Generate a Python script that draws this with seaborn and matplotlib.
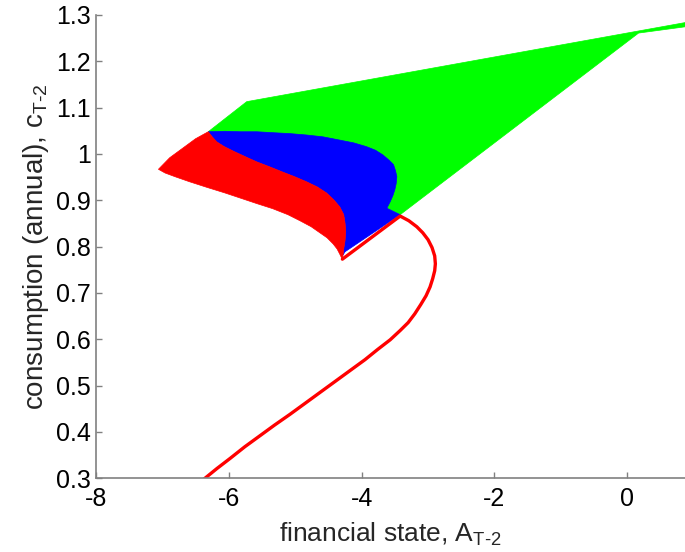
import matplotlib
matplotlib.use("Agg")
import matplotlib.pyplot as plt
import pandas as pd
import seaborn as sns

# green region (outline), financial state A vs consumption c
green_a = [-6.31, -5.73, 1.00, 1.00, 0.17, -3.42, -3.62]
green_c = [1.048, 1.113, 1.287, 1.277, 1.261, 0.869, 0.883]

# blue region: top edge, notch, lower edge
blue_top_a = [-6.31, -6.06, -5.83, -5.58, -5.34, -5.08, -4.83, -4.58, -4.33, -4.12,
              -3.93, -3.79, -3.68, -3.59, -3.52, -3.49, -3.47, -3.48, -3.50, -3.53,
              -3.57, -3.62, -3.42, -4.25]
blue_top_c = [1.048, 1.049, 1.048, 1.048, 1.046, 1.044, 1.041, 1.037, 1.030, 1.024,
              1.016, 1.008, 0.998, 0.987, 0.977, 0.964, 0.951, 0.936, 0.923, 0.910,
              0.897, 0.883, 0.869, 0.789]

# red/blue boundary, from the left junction down to the red tip
split_a = [-6.31, -6.25, -6.18, -6.07, -5.93, -5.75, -5.58, -5.38, -5.19, -5.01,
           -4.83, -4.67, -4.53, -4.42, -4.33, -4.27, -4.25, -4.24, -4.25, -4.27,
           -4.28]
split_c = [1.048, 1.037, 1.026, 1.016, 1.006, 0.994, 0.983, 0.972, 0.961, 0.951,
           0.940, 0.929, 0.916, 0.901, 0.886, 0.869, 0.851, 0.832, 0.813, 0.795,
           0.782]

# red region: left edge and lower edge, from the junction to the red tip
red_edge_a = [-6.31, -6.50, -6.69, -6.89, -7.06, -6.96, -6.81, -6.59, -6.33, -6.06,
              -5.83, -5.58, -5.34, -5.11, -4.93, -4.76, -4.63, -4.52, -4.43, -4.37,
              -4.33, -4.29]
red_edge_c = [1.048, 1.033, 1.013, 0.992, 0.967, 0.959, 0.951, 0.940, 0.928, 0.916,
              0.905, 0.893, 0.882, 0.869, 0.856, 0.843, 0.830, 0.819, 0.806, 0.795,
              0.784, 0.772]

# red curve
curve_a = [-4.29, -3.42, -3.29, -3.17, -3.08, -3.00, -2.94, -2.90, -2.89, -2.90,
           -2.93, -2.97, -3.03, -3.11, -3.20, -3.30, -3.42, -3.57, -3.76, -3.95,
           -4.18, -4.40, -4.63, -4.85, -5.08, -5.31, -5.53, -5.76, -5.98, -6.18,
           -6.36, -6.45]
curve_c = [0.773, 0.866, 0.856, 0.843, 0.830, 0.815, 0.798, 0.780, 0.763, 0.748,
           0.731, 0.713, 0.694, 0.675, 0.655, 0.636, 0.619, 0.599, 0.578, 0.556,
           0.532, 0.509, 0.485, 0.462, 0.438, 0.415, 0.392, 0.368, 0.343, 0.321,
           0.300, 0.290]

x_ticks = [-8, -6, -4, -2, 0]
y_ticks = [0.3, 0.4, 0.5, 0.6, 0.7, 0.8, 0.9, 1.0, 1.1, 1.2, 1.3]
y_tick_labels = ["0.3", "0.4", "0.5", "0.6", "0.7", "0.8", "0.9", "1", "1.1", "1.2", "1.3"]

sns.set_style("ticks")
plt.rcParams["font.family"] = ["Liberation Sans", "DejaVu Sans"]
plt.rcParams["mathtext.fontset"] = "custom"
plt.rcParams["mathtext.rm"] = "Liberation Sans"

fig = plt.figure(figsize=(6.85, 5.52), dpi=100)
ax = fig.add_axes([96 / 685, 73.7 / 552, 1 - 96 / 685, 463.3 / 552])

blue_a = blue_top_a + split_a[::-1]
blue_c = blue_top_c + split_c[::-1]
red_a = red_edge_a + split_a[::-1]
red_c = red_edge_c + split_c[::-1]

ax.fill(green_a, green_c, color="#00ff00", lw=0.5)
ax.fill(blue_a, blue_c, color="#0000ff", lw=0.5)
ax.fill(red_a, red_c, color="#ff0000", lw=0.5)

curve = pd.DataFrame({"A": curve_a, "c": curve_c})
sns.lineplot(data=curve, x="A", y="c", sort=False, estimator=None,
             color="#ff0000", lw=2.4, ax=ax)

ax.set_xlim(-8, 0.869)
ax.set_ylim(0.3, 1.3)
ax.set_xticks(x_ticks)
ax.set_xticklabels([str(t) for t in x_ticks])
ax.set_yticks(y_ticks)
ax.set_yticklabels(y_tick_labels)
ax.tick_params(direction="in", length=4, width=1, colors="#808080",
               labelcolor="black", labelsize=18)
ax.tick_params(axis="x", pad=6)
for side in ["top", "right"]:
    ax.spines[side].set_visible(False)
for side in ["left", "bottom"]:
    ax.spines[side].set_color("#808080")
    ax.spines[side].set_linewidth(1.2)

ax.set_xlabel(r"financial state, $\mathregular{A_{T\text{-}2}}$", fontsize=19, labelpad=7)
ax.set_ylabel(r"consumption (annual), $\mathregular{c_{T\text{-}2}}$", fontsize=20)

fig.savefig("out.png", dpi=100)
